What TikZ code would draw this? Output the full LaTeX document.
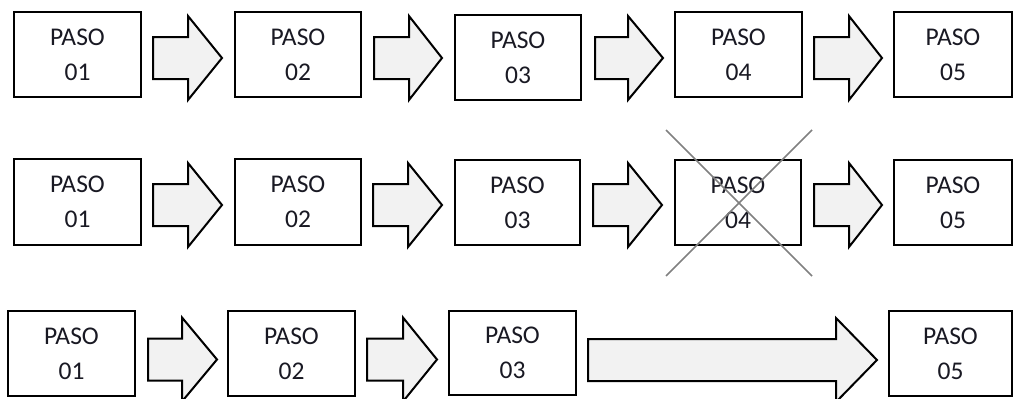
\documentclass[tikz,border=0pt]{standalone}
\usepackage{fontspec}
\setmainfont{Carlito}
\usetikzlibrary{calc}
\definecolor{txtcol}{RGB}{25,25,35}
\definecolor{arrfill}{RGB}{242,242,242}
\definecolor{crosscol}{RGB}{128,128,128}
\newcommand{\blockarrow}[4]{%
  \draw[blockarr] (#1,#4-21) -- (#2,#4-21) -- (#2,#4-42) -- (#3,#4) -- (#2,#4+42) -- (#2,#4+21) -- (#1,#4+21) -- cycle;}
\begin{document}
\begin{tikzpicture}[x=1pt,y=-1pt,
  stepbox/.style={draw=black, line width=2pt, fill=white, minimum height=85pt,
    align=center, text=txtcol, font=\fontsize{25.5}{35}\selectfont, inner sep=0pt},
  blockarr/.style={draw=black, line width=2pt, fill=arrfill, line join=miter},
  crossline/.style={draw=crosscol, line width=1.6pt}]
\useasboundingbox (0,0) rectangle (1013,399);
% Row 1
\node[stepbox, minimum width=127pt] (r1b1) at (77.5,54.5) {PASO\\01};
\node[stepbox, minimum width=126pt] (r1b2) at (298,54.5) {PASO\\02};
\node[stepbox, minimum width=126pt] (r1b3) at (518,57.5) {PASO\\03};
\node[stepbox, minimum width=127pt] (r1b4) at (738.5,54.5) {PASO\\04};
\node[stepbox, minimum width=118pt] (r1b5) at (953,54.5) {PASO\\05};
\blockarrow{153}{188}{222}{58}
\blockarrow{374}{409}{442}{58}
\blockarrow{595}{628}{663}{58}
\blockarrow{814}{849}{882}{58}
% Row 2
\node[stepbox, minimum width=127pt, minimum height=86pt] (r2b1) at (77.5,202) {PASO\\01};
\node[stepbox, minimum width=126pt, minimum height=86pt] (r2b2) at (298,202) {PASO\\02};
\node[stepbox, minimum width=125pt] (r2b3) at (517.5,202.5) {PASO\\03};
\node[stepbox, minimum width=126pt] (r2b4) at (738,202.5) {PASO\\04};
\node[stepbox, minimum width=118pt] (r2b5) at (953,202.5) {PASO\\05};
\blockarrow{153}{188}{222}{205}
\blockarrow{373}{408}{442}{205}
\blockarrow{593}{628}{662}{205}
\blockarrow{814}{849}{882}{205}
\coordinate (xa) at ($(r2b4.center)+(-72,-72.5)$);
\coordinate (xb) at ($(r2b4.center)+(74,73.5)$);
\coordinate (xc) at ($(r2b4.center)+(74,-72.5)$);
\coordinate (xd) at ($(r2b4.center)+(-72,73.5)$);
\draw[crossline] (xa) -- (xb);
\draw[crossline] (xc) -- (xd);
% Row 3
\node[stepbox, minimum width=127pt] (r3b1) at (71.5,353.5) {PASO\\01};
\node[stepbox, minimum width=127pt] (r3b2) at (291.5,353.5) {PASO\\02};
\node[stepbox, minimum width=127pt, minimum height=84pt] (r3b3) at (512.5,353) {PASO\\03};
\node[stepbox, minimum width=123pt] (r3b5) at (950.5,353.5) {PASO\\05};
\blockarrow{148}{182}{217}{359.5}
\blockarrow{367}{403}{437}{359.5}
\blockarrow{588}{836}{877}{360}
\end{tikzpicture}
\end{document}
